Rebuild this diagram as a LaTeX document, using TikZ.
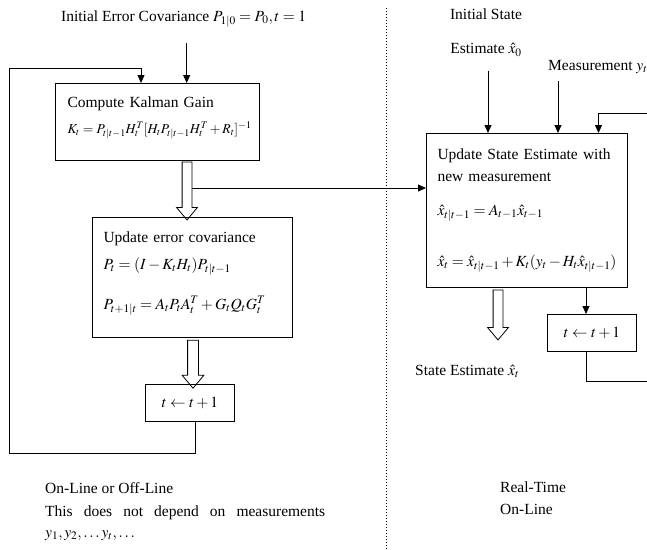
\documentclass[tikz,border=0pt]{standalone}
\usepackage{amsmath}
\usepackage{mathptmx}
\usepackage{graphicx}
\usepackage{fontspec}
\setmainfont{Liberation Serif}
\usetikzlibrary{arrows.meta,calc,positioning,shapes.arrows}
\tikzset{%
	box/.style     = {draw, rectangle, line width=1pt, anchor=north west, inner xsep=11pt, align=left},
	tbox/.style    = {draw, rectangle, line width=1pt, anchor=north west, minimum width=89pt, minimum height=37pt},
	hollow/.style  = {draw, single arrow, rotate=-90, inner sep=4.5pt, minimum width=20pt, single arrow head extend=5.5pt, single arrow tip angle=80, line width=0.8pt}, % Big open arrow
	txt/.style     = {inner sep=0pt},
	line/.style    = {draw, line width=0.8pt},
	arrow/.style   = {line, -{Triangle[length=8pt,width=7pt]}},
}
\newcommand{\pad}[1]{\rule[-#1]{0pt}{#1}}

\begin{document}
\begin{tikzpicture}[x=1pt,y=-1pt,font=\fontsize{15.5}{18}\selectfont]
	\clip (0,0) rectangle (647,549);
	% off-line part
	\node [txt, anchor=base west] (perr) at (61,21) {Initial Error Covariance $P_{1|0} = P_0, t = 1$};
	\node [box, text width=180pt, minimum height=77pt, inner xsep=12pt] (kalman) at (55,83)
		{Compute Kalman Gain\\[8pt] \resizebox{184pt}{!}{$K_t = P_{t|t-1}H_t^T[H_tP_{t|t-1}H_t^T + R_t]^{-1}$}\pad{14pt}};
	\node [box, text width=178pt, minimum height=120pt] (upd) at (92,217)
		{Update error covariance\\[9pt] $P_t = (I - K_tH_t)P_{t|t-1}$\\[20pt] $P_{t+1|t} = A_tP_tA_t^T + G_tQ_tG_t^T$\pad{14pt}};
	\node [hollow, minimum height=58pt] (ha1) at (187,188) {};
	\node [hollow, minimum height=48pt, inner sep=5pt] (ha2) at (193,361) {};
	\node [tbox] (tleft) at (145,384) {$t \leftarrow t+1$};
	\node [txt, anchor=north west, align=left] (offline) at (45,482)
		{On-Line or Off-Line\\[5pt] \makebox[280pt][s]{This does not depend on measurements}\\[3pt] $y_1,y_2,\ldots y_t,\ldots$};
	\coordinate (lb) at (9,453);
	\coordinate (lt) at (9,68);
	\draw [arrow] ([xshift=3pt,yshift=-16pt]perr.south) -- ([xshift=3pt]perr.south |- kalman.north);
	\draw [arrow] ([xshift=5pt]tleft.south) |- (lb) -- (lt) -| ([xshift=-16.5pt]kalman.north);

	% divider
	\draw [dotted, line width=1pt] (386,8) -- (386,549);

	% real-time part
	\node [txt, anchor=north, align=center] (x0) at (486,9) {Initial State\\[16pt] Estimate $\hat{x}_0$};
	\node [txt, anchor=base west] (meas) at (548,70) {Measurement $y_t$};
	\node [box, text width=179pt, minimum height=154pt] (state) at (426,133)
		{\makebox[178pt][s]{Update State Estimate with}\\[4pt] new measurement\\[16pt] $\hat{x}_{t|t-1} = A_{t-1}\hat{x}_{t-1}$\\[33pt] $\hat{x}_t = \hat{x}_{t|t-1} + K_t(y_t - H_t\hat{x}_{t|t-1})$};
	\node [hollow, minimum height=50pt] (ha3) at (498,312) {};
	\node [tbox] (tright) at (547,314) {$t \leftarrow t+1$};
	\node [txt, anchor=base west] (xt) at (415,375) {State Estimate $\hat{x}_t$};
	\node [txt, anchor=north west, align=left] (online) at (500,482) {Real-Time\\[4pt] On-Line};
	\coordinate (rb) at (647,381);
	\coordinate (rt) at (647,113);
	\draw [arrow] (ha1.north) -- (ha1.north -| state.west);
	\draw [arrow] ([xshift=2pt,yshift=-14pt]x0.south) -- ([xshift=2pt]x0.south |- state.north);
	\draw [arrow] ([xshift=10pt,yshift=-8pt]meas.south west) -- ([xshift=10pt]meas.south west |- state.north);
	\draw [arrow] (rt) -| ([xshift=71.5pt]state.north);
	\draw [arrow] ([xshift=-6pt]tright.north |- state.south) -- ([xshift=-6pt]tright.north);
	\draw [line] ([xshift=-6pt]tright.south) |- (rb);
\end{tikzpicture}
\end{document}
